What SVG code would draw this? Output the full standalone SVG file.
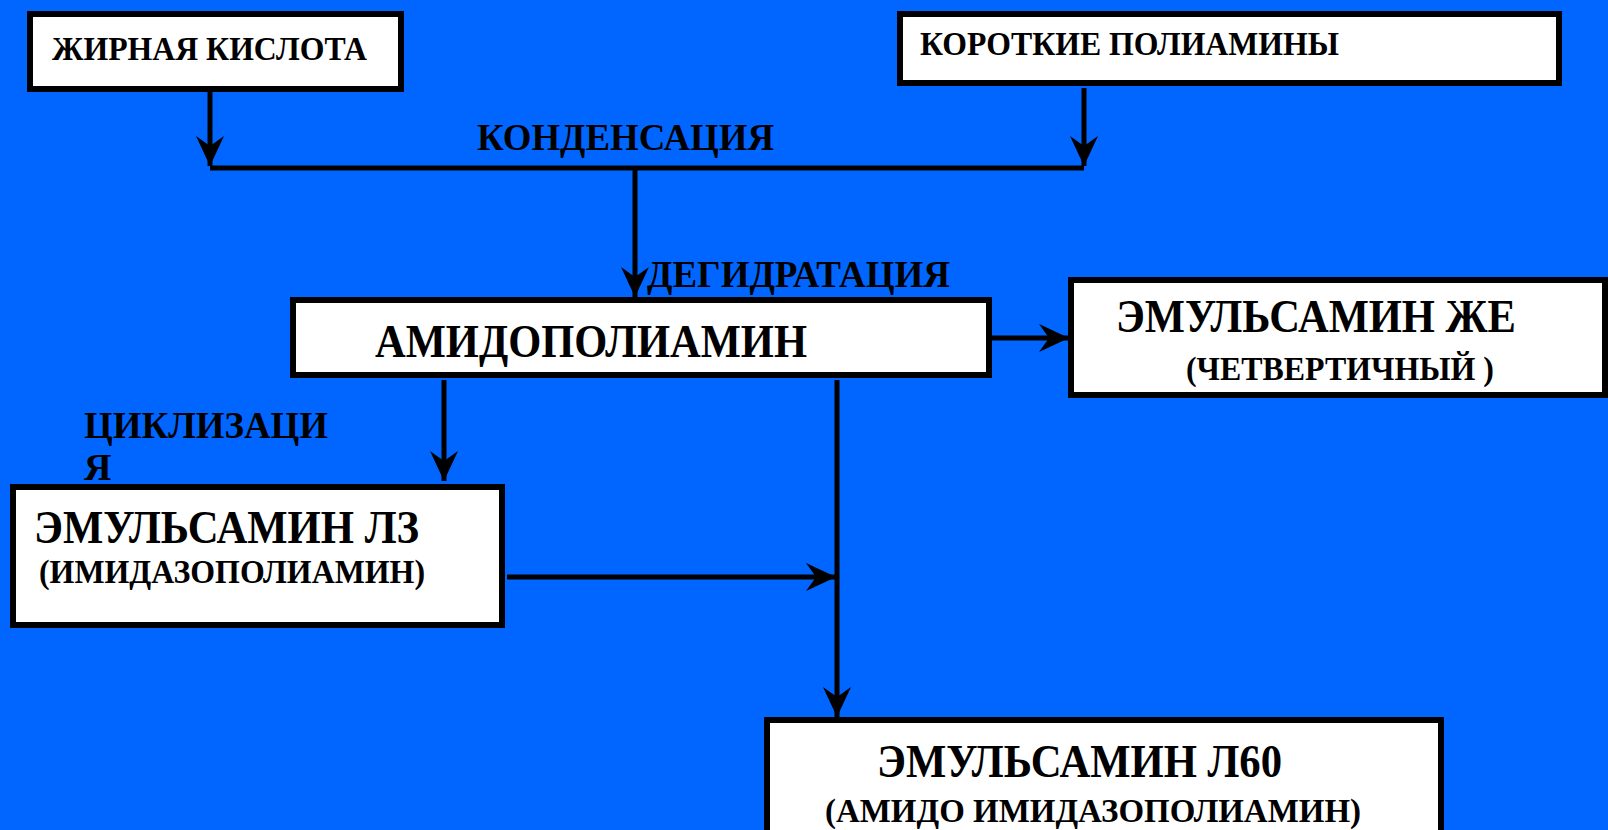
<svg xmlns="http://www.w3.org/2000/svg" width="1608" height="830" viewBox="0 0 1608 830">
<defs>
<style>
.box{fill:#fff;stroke:#000;stroke-width:6}
.t{font-family:"Liberation Serif","Times New Roman",serif;font-weight:bold;fill:#000}
.s{font-size:33px}
.m{font-size:38px}
.l{font-size:46px}
.c{fill:none;stroke:#000;stroke-width:5}
</style>
<marker id="ah" markerUnits="userSpaceOnUse" markerWidth="34" markerHeight="32" viewBox="0 -16 32 32" refX="30" refY="0" orient="auto">
<path d="M0,-14 L30,0 L0,14 L10,0 z" fill="#000"/>
</marker>
</defs>
<rect width="1608" height="830" fill="#0066FF"/>
<g id="n-fatty">
<rect class="box" x="30" y="14" width="371" height="75"/>
<text class="t s" x="52" y="60" textLength="315" lengthAdjust="spacingAndGlyphs">ЖИРНАЯ КИСЛОТА</text>
</g>
<g id="n-poly">
<rect class="box" x="900" y="14" width="659" height="69"/>
<text class="t s" x="920" y="55" textLength="419" lengthAdjust="spacingAndGlyphs">КОРОТКИЕ ПОЛИАМИНЫ</text>
</g>
<g id="n-amido">
<rect class="box" x="293" y="300" width="696" height="75"/>
<text class="t l" x="375" y="357" textLength="432" lengthAdjust="spacingAndGlyphs">АМИДОПОЛИАМИН</text>
</g>
<g id="n-je">
<rect class="box" x="1071" y="280" width="534" height="115"/>
<text class="t l" x="1116" y="332" textLength="400" lengthAdjust="spacingAndGlyphs">ЭМУЛЬСАМИН ЖЕ</text>
<text class="t s" x="1186" y="380" textLength="308" lengthAdjust="spacingAndGlyphs">(ЧЕТВЕРТИЧНЫЙ )</text>
</g>
<g id="n-l3">
<rect class="box" x="13" y="487" width="489" height="138"/>
<text class="t l" x="34" y="543" textLength="385" lengthAdjust="spacingAndGlyphs">ЭМУЛЬСАМИН ЛЗ</text>
<text class="t s" x="39" y="583" textLength="386" lengthAdjust="spacingAndGlyphs">(ИМИДАЗОПОЛИАМИН)</text>
</g>
<g id="n-l60">
<rect class="box" x="767" y="720" width="674" height="125"/>
<text class="t l" x="877" y="777" textLength="405" lengthAdjust="spacingAndGlyphs">ЭМУЛЬСАМИН Л60</text>
<text class="t s" x="825" y="822" textLength="536" lengthAdjust="spacingAndGlyphs">(АМИДО ИМИДАЗОПОЛИАМИН)</text>
</g>
<g id="labels">
<text class="t m" x="477" y="150" textLength="297" lengthAdjust="spacingAndGlyphs">КОНДЕНСАЦИЯ</text>
<text class="t m" x="647" y="287" textLength="303" lengthAdjust="spacingAndGlyphs">ДЕГИДРАТАЦИЯ</text>
<text class="t m" x="84" y="438" textLength="244" lengthAdjust="spacingAndGlyphs">ЦИКЛИЗАЦИ</text>
<text class="t m" x="84" y="480">Я</text>
</g>
<g id="connectors">
<path class="c" d="M210,91 V166" marker-end="url(#ah)"/>
<path class="c" d="M1084,88 V166" marker-end="url(#ah)"/>
<path class="c" d="M210,168 H1084"/>
<path class="c" d="M635,168 V297" marker-end="url(#ah)"/>
<path class="c" d="M991,338 H1069" marker-end="url(#ah)"/>
<path class="c" d="M444,380 V481" marker-end="url(#ah)"/>
<path class="c" d="M837,380 V717" marker-end="url(#ah)"/>
<path class="c" d="M507,577 H836" marker-end="url(#ah)"/>
</g>
</svg>
